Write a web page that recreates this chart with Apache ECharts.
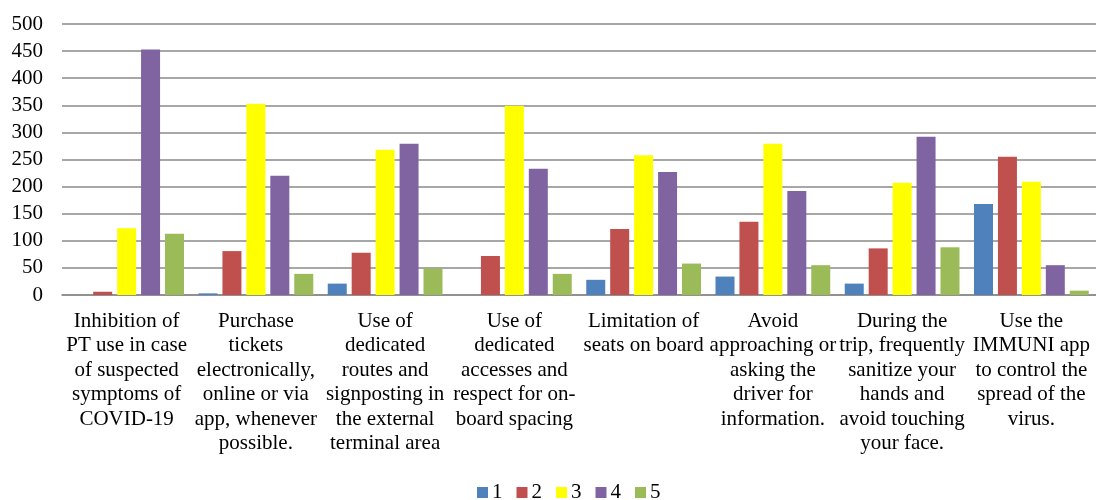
<!DOCTYPE html>
<html>
<head>
<meta charset="utf-8">
<script src="https://cdn.jsdelivr.net/npm/echarts@6/dist/echarts.min.js"></script>
<style>
  html, body { margin: 0; padding: 0; background: #fff; }
  #chart { width: 1096px; height: 500px; }
</style>
</head>
<body>
<div id="chart"></div>
<script>
// Survey measures (category labels, pre-wrapped)
const categories = [
  'Inhibition of\nPT use in case\nof suspected\nsymptoms of\nCOVID-19',
  'Purchase\ntickets\nelectronically,\nonline or via\napp, whenever\npossible.',
  'Use of\ndedicated\nroutes and\nsignposting in\nthe external\nterminal area',
  'Use of\ndedicated\naccesses and\nrespect for on-\nboard spacing',
  'Limitation of\nseats on board',
  'Avoid\napproaching or\nasking the\ndriver for\ninformation.',
  'During the\ntrip, frequently\nsanitize your\nhands and\navoid touching\nyour face.',
  'Use the\nIMMUNI app\nto control the\nspread of the\nvirus.'
];

// Number of responses per rating (1..5)
const rating1 = [0, 3, 21, 0, 28, 34, 21, 168];
const rating2 = [6, 81, 78, 72, 122, 135, 86, 255];
const rating3 = [123, 353, 268, 349, 258, 279, 207, 209];
const rating4 = [453, 220, 279, 233, 227, 192, 292, 55];
const rating5 = [113, 39, 49, 39, 58, 55, 88, 8];

const seriesNames = ['1', '2', '3', '4', '5'];
const seriesData = [rating1, rating2, rating3, rating4, rating5];
const seriesColors = ['#4F81BD', '#C0504D', '#FFFF00', '#8064A2', '#9BBB59'];

const yTicks = { min: 0, max: 500, interval: 50 };

const font = 'Liberation Serif, Times New Roman, serif';

const chart = echarts.init(document.getElementById('chart'), null, { renderer: 'canvas' });

chart.setOption({
  animation: false,
  backgroundColor: '#ffffff',
  textStyle: { fontFamily: font },
  grid: { left: 62, right: 0, top: 24, bottom: 205, containLabel: false },
  legend: {
    data: seriesNames,
    top: 477,
    left: 472,
    padding: 5,
    itemWidth: 11,
    itemHeight: 11,
    itemGap: 14,
    icon: 'rect',
    textStyle: { fontFamily: font, fontSize: 21, color: '#000', padding: [0, 0, 0, -1] }
  },
  xAxis: {
    type: 'category',
    data: categories,
    axisTick: { show: false },
    axisLine: { lineStyle: { color: '#8a8a8a', width: 1.5 } },
    axisLabel: {
      interval: 0,
      margin: 14,
      fontFamily: font,
      fontSize: 21,
      lineHeight: 24.5,
      color: '#000',
      align: 'center'
    }
  },
  yAxis: {
    type: 'value',
    min: yTicks.min,
    max: yTicks.max,
    interval: yTicks.interval,
    axisLine: { show: false },
    axisTick: { show: false },
    axisLabel: { margin: 19, fontFamily: font, fontSize: 21, color: '#000' },
    splitLine: { lineStyle: { color: '#8a8a8a', width: 1.5 } }
  },
  series: seriesNames.map((name, i) => ({
    name,
    type: 'bar',
    data: seriesData[i],
    barWidth: 19,
    barGap: '26%',
    itemStyle: { color: seriesColors[i] }
  }))
});
</script>
</body>
</html>
